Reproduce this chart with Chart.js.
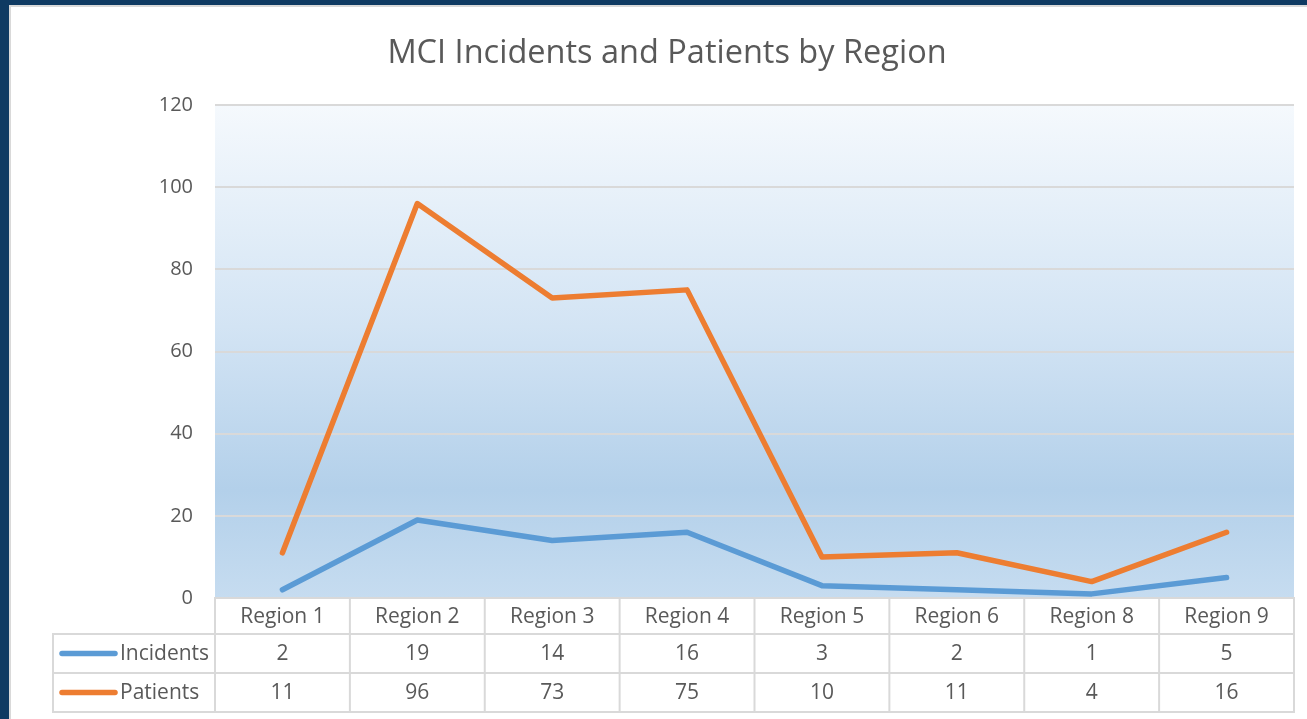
<!DOCTYPE html>
<html>
<head>
<meta charset="utf-8">
<script src="https://cdn.jsdelivr.net/npm/chart.js@4/dist/chart.umd.min.js"></script>
<style>
  html,body{margin:0;padding:0;background:#ffffff;}
  #wrap{position:relative;width:1307px;height:719px;}
  canvas{display:block;}
</style>
</head>
<body>
<div id="wrap"><canvas id="c" width="1307" height="719"></canvas></div>
<script>
const chartTitle = 'MCI Incidents and Patients by Region';
const regions = ['Region 1','Region 2','Region 3','Region 4','Region 5','Region 6','Region 8','Region 9'];
const incidents = [2, 19, 14, 16, 3, 2, 1, 5];
const patients = [11, 96, 73, 75, 10, 11, 4, 16];
const seriesNames = ['Incidents', 'Patients'];
const yMin = 0, yMax = 120, yStep = 20;

const FONT = '"Open Sans", "Noto Sans", sans-serif';
const TEXT = '#595959';
const GRID = '#d9d9d9';
const BLUE = '#5b9bd5';
const ORANGE = '#ed7d31';

const framePlugin = {
  id: 'frame',
  beforeDraw(chart) {
    const ctx = chart.ctx;
    const W = chart.width, H = chart.height;
    ctx.save();
    ctx.fillStyle = '#0f3a62';
    ctx.fillRect(0, 0, W, H);
    ctx.fillStyle = '#ffffff';
    ctx.fillRect(9, 5, W - 9, H - 5);
    ctx.strokeStyle = '#d9d9d9';
    ctx.lineWidth = 2;
    ctx.beginPath();
    ctx.moveTo(10, H);
    ctx.lineTo(10, 6);
    ctx.lineTo(W, 6);
    ctx.stroke();
    const a = chart.chartArea;
    const g = ctx.createLinearGradient(0, a.top, 0, a.bottom);
    g.addColorStop(0, '#f5f9fd');
    g.addColorStop(0.45, '#d3e4f4');
    g.addColorStop(0.78, '#b3d0ea');
    g.addColorStop(1, '#c6dcf0');
    ctx.fillStyle = g;
    ctx.fillRect(a.left, a.top, a.right - a.left, a.bottom - a.top);
    ctx.restore();
  }
};

const tablePlugin = {
  id: 'dataTable',
  afterDraw(chart) {
    const ctx = chart.ctx;
    const xs = chart.scales.x;
    const a = chart.chartArea;
    const half = (xs.getPixelForValue(1) - xs.getPixelForValue(0)) / 2;
    const rowTops = [a.bottom, a.bottom + 36, a.bottom + 75];
    const rowBottoms = [a.bottom + 36, a.bottom + 75, a.bottom + 114];
    const labelLeft = 53;
    ctx.save();
    ctx.strokeStyle = GRID;
    ctx.lineWidth = 2;
    ctx.font = '21px ' + FONT;
    ctx.fillStyle = TEXT;
    ctx.textAlign = 'center';
    ctx.textBaseline = 'middle';
    const rows = [regions, incidents, patients];
    for (let r = 0; r < 3; r++) {
      const y0 = rowTops[r], y1 = rowBottoms[r];
      const left = r === 0 ? a.left : labelLeft;
      ctx.strokeRect(left, y0, a.right - left, y1 - y0);
      for (let i = 0; i < regions.length; i++) {
        const cx = xs.getPixelForValue(i);
        ctx.beginPath();
        ctx.moveTo(cx - half, y0);
        ctx.lineTo(cx - half, y1);
        ctx.stroke();
        ctx.fillStyle = TEXT;
        ctx.fillText(String(rows[r][i]), cx, (y0 + y1) / 2 + 1);
      }
      if (r > 0) {
        const ds = chart.data.datasets[r - 1];
        const my = (y0 + y1) / 2;
        ctx.strokeStyle = ds.borderColor;
        ctx.lineWidth = 5.5;
        ctx.lineCap = 'round';
        ctx.beginPath();
        ctx.moveTo(62, my);
        ctx.lineTo(115, my);
        ctx.stroke();
        ctx.lineCap = 'butt';
        ctx.strokeStyle = GRID;
        ctx.lineWidth = 2;
        ctx.textAlign = 'left';
        ctx.fillText(ds.label, 120, my + 1);
        ctx.textAlign = 'center';
      }
    }
    ctx.restore();
  }
};

new Chart(document.getElementById('c'), {
  type: 'line',
  data: {
    labels: regions,
    datasets: [
      { label: seriesNames[0], data: incidents, borderColor: BLUE, backgroundColor: BLUE, borderWidth: 5.5, pointRadius: 0, tension: 0, borderCapStyle: 'round', borderJoinStyle: 'round' },
      { label: seriesNames[1], data: patients, borderColor: ORANGE, backgroundColor: ORANGE, borderWidth: 5.5, pointRadius: 0, tension: 0, borderCapStyle: 'round', borderJoinStyle: 'round' }
    ]
  },
  options: {
    responsive: false,
    animation: false,
    devicePixelRatio: 1,
    layout: { padding: { left: 40, right: 13, top: 0, bottom: 121 } },
    plugins: {
      legend: { display: false },
      tooltip: { enabled: false },
      title: {
        display: true,
        text: chartTitle,
        color: TEXT,
        font: { family: FONT, size: 32.5, weight: 'normal' },
        padding: { top: 34, bottom: 32 }
      }
    },
    scales: {
      x: { display: false, offset: true },
      y: {
        min: yMin, max: yMax,
        border: { display: false },
        grid: { color: GRID, lineWidth: 2, drawTicks: false },
        ticks: { stepSize: yStep, color: TEXT, padding: 22, font: { family: FONT, size: 20 } },
        afterFit(scale) { scale.width = 175; }
      }
    }
  },
  plugins: [framePlugin, tablePlugin]
});
</script>
</body>
</html>
